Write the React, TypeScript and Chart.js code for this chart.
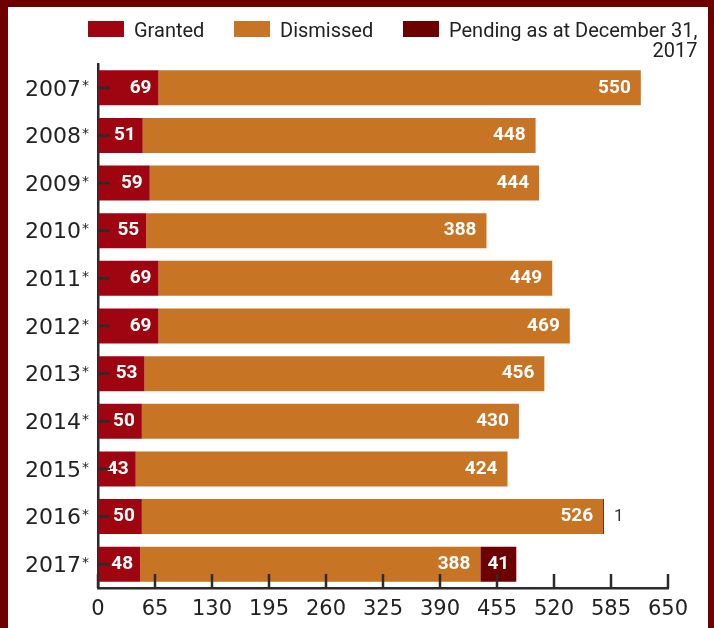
import React, { useEffect, useRef } from "react";
import { Chart, registerables } from "chart.js";

Chart.register(...registerables);

const years = ["2007", "2008", "2009", "2010", "2011", "2012", "2013", "2014", "2015", "2016", "2017"];
const granted = [69, 51, 59, 55, 69, 69, 53, 50, 43, 50, 48];
const dismissed = [550, 448, 444, 388, 449, 469, 456, 430, 424, 526, 388];
const pending = [null, null, null, null, null, null, null, null, null, 1, 41];
const xTicks = [0, 65, 130, 195, 260, 325, 390, 455, 520, 585, 650];

const seriesNames = ["Granted", "Dismissed", "Pending as at December 31, 2017"];
const seriesColors = ["#9E0510", "#C87425", "#6D0000"];

const AXIS = "#2B2B2B";
const TEXT = "#222222";

const labelsPlugin = {
  id: "customMarks",
  afterDatasetsDraw(chart: any) {
    const ctx = chart.ctx;
    const xs = chart.scales.x;
    const ys = chart.scales.y;
    ctx.save();
    // value labels
    chart.data.datasets.forEach((ds: any, di: number) => {
      const meta = chart.getDatasetMeta(di);
      meta.data.forEach((el: any, i: number) => {
        const v = ds.data[i];
        if (v == null) return;
        const left = Math.min(el.x, el.base);
        const right = Math.max(el.x, el.base);
        const w = right - left;
        ctx.textBaseline = "middle";
        if (di === 2) {
          if (w < 25) {
            ctx.fillStyle = "#333";
            ctx.font = "17px Roboto";
            ctx.textAlign = "left";
            ctx.fillText(String(v), right + 10, el.y);
          } else {
            ctx.fillStyle = "#fff";
            ctx.font = "bold 19px Roboto";
            ctx.textAlign = "center";
            ctx.fillText(String(v), (left + right) / 2, el.y);
          }
        } else {
          ctx.fillStyle = "#fff";
          ctx.font = "bold 19px Roboto";
          ctx.textAlign = "right";
          ctx.fillText(String(v), right - (di === 0 ? 7 : 10), el.y);
        }
      });
    });
    // tick marks
    ctx.strokeStyle = AXIS;
    ctx.lineWidth = 2.5;
    ys.ticks.forEach((_t: any, i: number) => {
      const y = ys.getPixelForTick(i);
      ctx.beginPath();
      ctx.moveTo(chart.chartArea.left, y);
      ctx.lineTo(chart.chartArea.left + 12, y);
      ctx.stroke();
    });
    xs.ticks.forEach((t: any) => {
      const x = xs.getPixelForValue(t.value);
      ctx.beginPath();
      ctx.moveTo(x, chart.chartArea.bottom);
      ctx.lineTo(x, chart.chartArea.bottom - 14);
      ctx.stroke();
    });
    // superscript asterisks on year labels
    ctx.fillStyle = TEXT;
    ctx.font = "14px 'DejaVu Sans'";
    ctx.textAlign = "left";
    ctx.textBaseline = "top";
    ys.ticks.forEach((_t: any, i: number) => {
      const y = ys.getPixelForTick(i);
      ctx.fillText("*", chart.chartArea.left - 16, y - 8);
    });
    ctx.restore();
  },
};

export default function App() {
  const ref = useRef<HTMLCanvasElement>(null);

  useEffect(() => {
    if (!ref.current) return;
    const chart = new Chart(ref.current, {
      type: "bar",
      data: {
        labels: years,
        datasets: [
          { label: seriesNames[0], data: granted, backgroundColor: seriesColors[0] },
          { label: seriesNames[1], data: dismissed, backgroundColor: seriesColors[1] },
          { label: seriesNames[2], data: pending as any, backgroundColor: seriesColors[2] },
        ],
      },
      options: {
        indexAxis: "y",
        responsive: false,
        animation: false,
        layout: { padding: { top: 64, right: 46, bottom: 0, left: 0 } },
        datasets: {
          bar: { categoryPercentage: 1, barPercentage: 0.735, borderWidth: 0 },
        },
        plugins: {
          legend: { display: false },
          tooltip: { enabled: false },
        },
        scales: {
          x: {
            type: "linear",
            stacked: true,
            min: 0,
            max: 650,
            afterBuildTicks: (s: any) => {
              s.ticks = xTicks.map((v) => ({ value: v }));
            },
            afterFit: (s: any) => {
              s.height = 40;
            },
            grid: { display: true, drawOnChartArea: false, drawTicks: false },
            border: { display: true, color: AXIS, width: 2.5 },
            ticks: {
              color: TEXT,
              padding: 9,
              font: { family: "'DejaVu Sans'", size: 21 },
              maxRotation: 0,
              autoSkip: false,
            },
          },
          y: {
            stacked: true,
            afterFit: (s: any) => {
              s.width = 98;
            },
            grid: { display: true, drawOnChartArea: false, drawTicks: false },
            border: { display: true, color: AXIS, width: 2.5 },
            ticks: {
              color: TEXT,
              padding: 17,
              labelOffset: 2,
              font: { family: "'DejaVu Sans'", size: 22 },
              autoSkip: false,
            },
          },
        },
      },
      plugins: [labelsPlugin],
    });
    return () => chart.destroy();
  }, []);

  const boxStyle = (left: number, color: string): React.CSSProperties => ({
    position: "absolute",
    left,
    top: 21,
    width: 36,
    height: 16,
    background: color,
  });
  const textStyle = (left: number): React.CSSProperties => ({
    position: "absolute",
    left,
    top: 20,
    fontFamily: "Roboto",
    fontSize: 20,
    lineHeight: "20px",
    color: TEXT,
    whiteSpace: "nowrap",
  });

  return (
    <div style={{ position: "fixed", left: 0, top: 0, width: 714, height: 628, background: "#6E0000" }}>
      <div style={{ position: "absolute", left: 8, top: 7, width: 700, height: 630, background: "#fff" }} />
      <canvas
        ref={ref}
        width={714}
        height={628}
        style={{ position: "absolute", left: 0, top: 0, width: 714, height: 628 }}
      />
      <div style={boxStyle(88, seriesColors[0])} />
      <div style={textStyle(134)}>{seriesNames[0]}</div>
      <div style={boxStyle(234, seriesColors[1])} />
      <div style={textStyle(280)}>{seriesNames[1]}</div>
      <div style={boxStyle(403, seriesColors[2])} />
      <div style={{ ...textStyle(449), display: "inline-block", textAlign: "right" }}>
        Pending as at December 31,
        <br />
        2017
      </div>
    </div>
  );
}
